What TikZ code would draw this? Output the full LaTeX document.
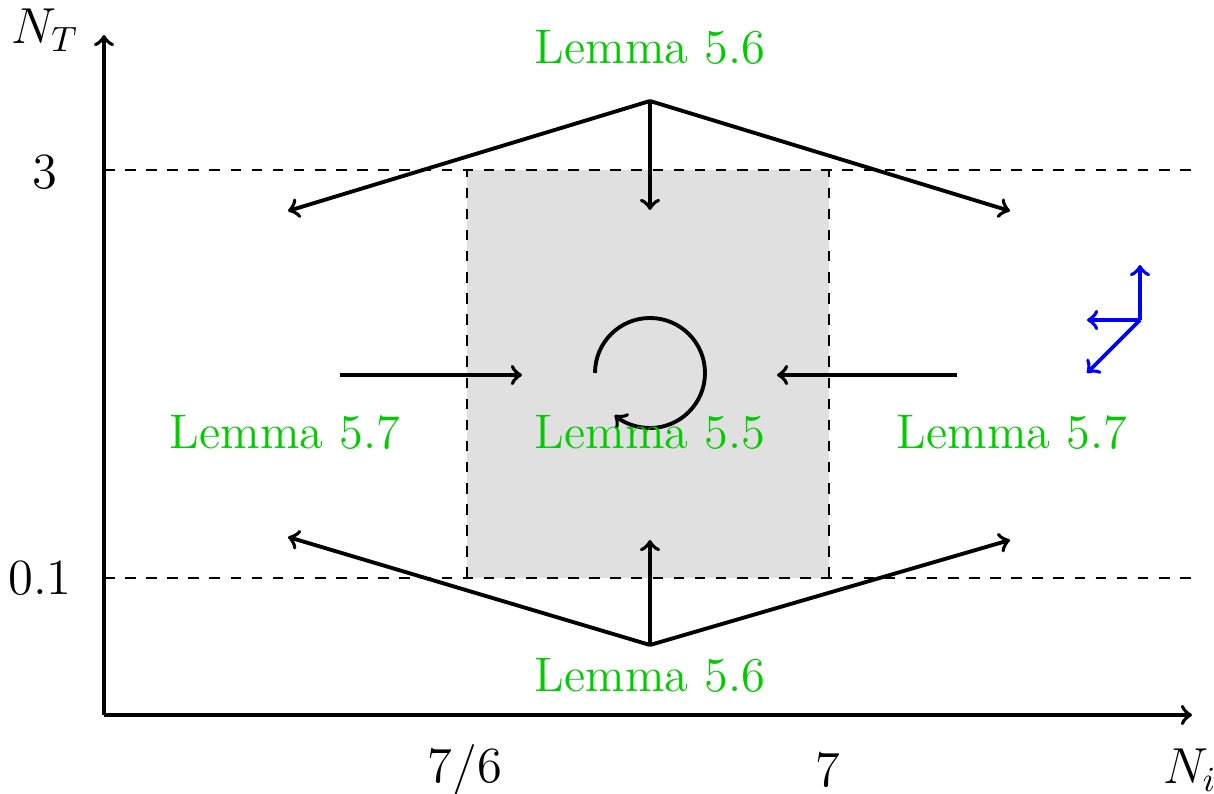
\documentclass[tikz,border=0pt]{standalone}
\usetikzlibrary{calc}
\definecolor{lemmagreen}{RGB}{0,204,0}

\begin{document}
\begin{tikzpicture}[x=0.01cm, y=0.01cm, line width=1.1pt,
  every node/.style={font=\fontsize{13.8}{16}\selectfont},
  lemma/.style={text=lemmagreen},
  guide/.style={line width=0.5pt, dashed}]
  \useasboundingbox (0,0) rectangle (1214,794);
  \coordinate (O) at (104,79);
  \coordinate (XE) at (1192,79);
  \coordinate (YE) at (104,759);
  % invariant region
  \fill[black!12] (467,216) rectangle (829,624);
  \draw[guide] (104,624) -- (1198,624);
  \draw[guide] (104,216) -- (1198,216);
  \draw[guide] (467,216) -- (467,624);
  \draw[guide] (829,216) -- (829,624);
  % axes
  \draw[->] (O) -- (XE);
  \draw[->] (O) -- (YE);
  \node (NT) at (45,764) {$N_T$};
  \node (Ni) at (1190,24) {$N_i$};
  \node (y3) at (45,622) {$3$};
  \node (y01) at (40,216) {$0.1$};
  \node (x76) at (465,24) {$7/6$};
  \node (x7) at (828,24) {$7$};
  % top
  \coordinate (T) at (650,693);
  \coordinate (TL) at (288,583);
  \coordinate (TR) at (1010,583);
  \coordinate (TD) at (650,584);
  \draw[->] (T) -- (TL);
  \draw[->] (T) -- (TR);
  \draw[->] (T) -- (TD);
  % bottom
  \coordinate (B) at (650,149);
  \coordinate (BL) at (288,257);
  \coordinate (BR) at (1010,254);
  \coordinate (BU) at (650,254);
  \draw[->] (B) -- (BL);
  \draw[->] (B) -- (BR);
  \draw[->] (B) -- (BU);
  % sides
  \coordinate (L1) at (340,419);
  \coordinate (L2) at (522,419);
  \coordinate (R1) at (957,419);
  \coordinate (R2) at (777,419);
  \draw[->] (L1) -- (L2);
  \draw[->] (R1) -- (R2);
  % rotation
  \coordinate (C) at (650,421);
  \draw[->] ($(C)+(-55,0)$) arc (180:-130:55);
  % blue directions
  \coordinate (P) at (1140,474);
  \coordinate (PU) at (1140,529);
  \coordinate (PL) at (1087,474);
  \coordinate (PD) at (1087,421);
  \draw[blue, ->] (P) -- (PU);
  \draw[blue, ->] (P) -- (PL);
  \draw[blue, ->] (P) -- (PD);
  % labels
  \node[lemma] (l56t) at (650,747) {Lemma 5.6};
  \node[lemma] (l56b) at (650,119) {Lemma 5.6};
  \node[lemma] (l57l) at (285,362) {Lemma 5.7};
  \node[lemma] (l55) at (650,362) {Lemma 5.5};
  \node[lemma] (l57r) at (1012,362) {Lemma 5.7};
\end{tikzpicture}
\end{document}
